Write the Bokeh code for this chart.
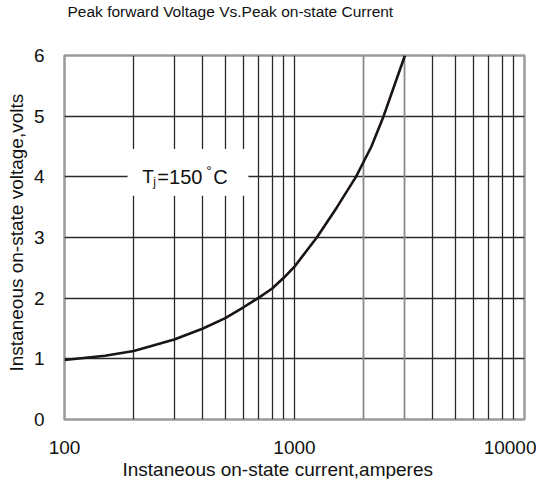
from bokeh.plotting import figure
from bokeh.models import Range1d, FixedTicker, Grid, Label, BoxAnnotation, Title
from bokeh.embed import file_html
from bokeh.resources import INLINE

current = [100, 150, 200, 300, 400, 500, 600, 700, 800, 900, 1000, 1250, 1530, 1850, 2160, 2440, 3020]
voltage = [0.98, 1.05, 1.13, 1.32, 1.5, 1.67, 1.85, 2.01, 2.16, 2.34, 2.52, 3.0, 3.5, 4.0, 4.5, 5.0, 6.0]

x_major = [100, 1000, 10000]
x_grid_dark = [100, 200, 300, 400, 500, 600, 700, 800, 900, 1000, 4000, 5000, 6000, 7000, 8000, 9000, 10000]
x_grid_grey = [2000, 3000]
y_ticks = [0, 1, 2, 3, 4, 5, 6]

title_text = "Peak forward Voltage Vs.Peak on-state Current"
x_label = "Instaneous on-state current,amperes"
y_label = "Instaneous on-state voltage,volts"

FONT = "Liberation Sans"

p = figure(width=536, height=479, x_axis_type="log",
           x_range=Range1d(100, 10000), y_range=Range1d(0, 6),
           output_backend="svg", toolbar_location=None,
           min_border_left=60, min_border_right=12, min_border_top=55, min_border_bottom=58)

# spacer between frame and title so the title sits at the top of the figure
p.add_layout(Title(text=" ", text_font_size="1px", standoff=33), "above")

p.title.text = title_text
p.title.text_font = FONT
p.title.text_font_size = "15.5px"
p.title.text_font_style = "normal"
p.title.text_color = "#111111"
p.title.offset = 3
p.title.standoff = 0

p.outline_line_color = "#9a9a9a"
p.outline_line_width = 2.5
p.background_fill_color = "white"

p.xaxis.ticker = FixedTicker(ticks=x_major)
p.xaxis.major_label_overrides = {100: "100", 1000: "1000", 10000: "10000"}
p.yaxis.ticker = FixedTicker(ticks=y_ticks)
for ax in (p.xaxis[0], p.yaxis[0]):
    ax.axis_line_color = None
    ax.major_tick_line_color = None
    ax.minor_tick_line_color = None
    ax.major_label_text_font = FONT
    ax.major_label_text_font_size = "19px"
    ax.major_label_text_color = "#111111"
p.xaxis.major_label_standoff = 15
p.yaxis.major_label_standoff = 14

xt = Title(text=x_label, align="left", offset=58, text_font=FONT, text_font_size="19px",
           text_font_style="normal", text_color="#111111", standoff=0)
p.add_layout(xt, "below")
yt = Title(text=y_label, align="left", offset=48, text_font=FONT, text_font_size="19px",
           text_font_style="normal", text_color="#111111", standoff=7)
p.add_layout(yt, "left")

p.xgrid.ticker = FixedTicker(ticks=x_grid_dark)
p.xgrid.grid_line_color = "#2a2a2a"
p.xgrid.grid_line_width = 1.3
p.ygrid.ticker = FixedTicker(ticks=y_ticks)
p.ygrid.grid_line_color = "#2a2a2a"
p.ygrid.grid_line_width = 1.3
p.add_layout(Grid(dimension=0, ticker=FixedTicker(ticks=x_grid_grey),
                  grid_line_color="#8a8a8a", grid_line_width=1.8))

p.add_layout(BoxAnnotation(left=188, right=630, bottom=3.69, top=4.46,
                           fill_color="white", fill_alpha=1.0, line_color=None, level="underlay"))

p.line(current, voltage, line_color="#1a1414", line_width=2.6)

base_x, base_y = 218, 4.0
lab_kw = dict(text_font=FONT, text_color="#111111", text_baseline="alphabetic")
p.add_layout(Label(x=base_x, y=base_y, text="T", text_font_size="19px", **lab_kw))
p.add_layout(Label(x=base_x, y=base_y, x_offset=11, y_offset=-5, text="j", text_font_size="12px", **lab_kw))
p.add_layout(Label(x=base_x, y=base_y, x_offset=15, text="=150", text_font_size="20px", **lab_kw))
p.add_layout(Label(x=base_x, y=base_y, x_offset=64, y_offset=6, text="°", text_font_size="14px", **lab_kw))
p.add_layout(Label(x=base_x, y=base_y, x_offset=71, text="C", text_font_size="20px", **lab_kw))

open("out.html", "w").write(file_html(p, INLINE))
